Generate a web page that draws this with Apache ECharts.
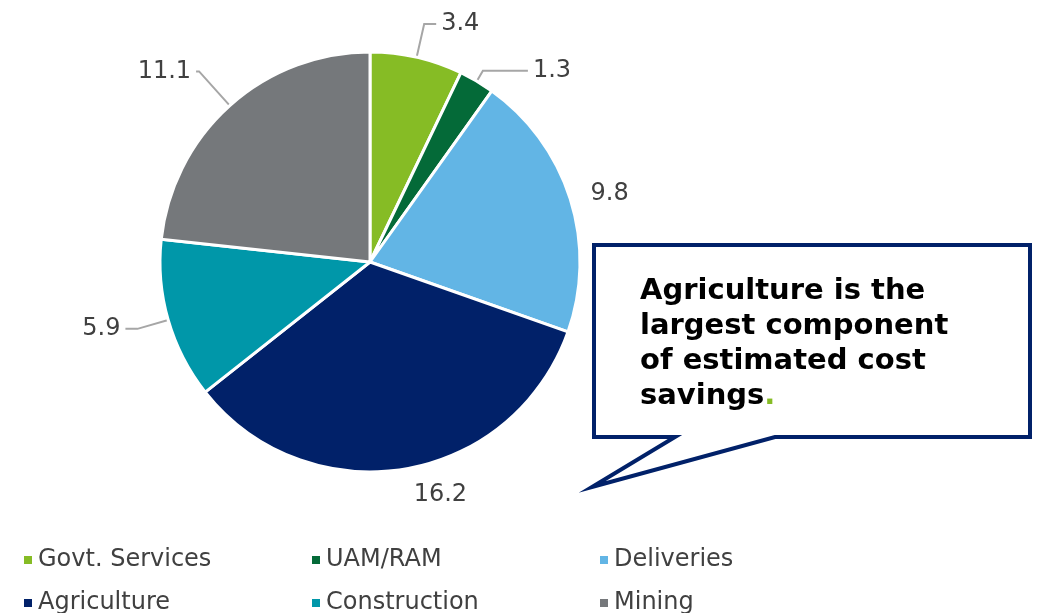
<!DOCTYPE html>
<html>
<head>
<meta charset="utf-8">
<script src="https://cdn.jsdelivr.net/npm/echarts@6/dist/echarts.min.js"></script>
<style>
  html, body { margin: 0; padding: 0; background: #fff; }
  #chart { width: 1038px; height: 613px; }
</style>
</head>
<body>
<div id="chart"></div>
<script>
var categories = ['Govt. Services', 'UAM/RAM', 'Deliveries', 'Agriculture', 'Construction', 'Mining'];
var values = [3.4, 1.3, 9.8, 16.2, 5.9, 11.1];
var colors = ['#86bc25', '#046a38', '#62b5e5', '#012169', '#0097a9', '#75787b'];
// leader lines only on the labels that have one in the original
var showLine = [true, true, false, false, true, true];
var lineLen = [[34, 12], [12, 45], [16, 0], [26, 0], [32, 12], [46, 3]];

var chart = echarts.init(document.getElementById('chart'));

var pieData = categories.map(function (name, i) {
    return {
        name: name,
        value: values[i],
        itemStyle: { color: colors[i] },
        labelLine: { show: showLine[i], length: lineLen[i][0], length2: lineLen[i][1] }
    };
});

var legendText = {
    fontFamily: 'DejaVu Sans',
    fontSize: 24,
    color: '#404040'
};

// 3 x 2 legend grid: one legend component per item
var legendCols = [17, 305, 593];
var legendRows = [543, 586];
var legends = categories.map(function (name, i) {
    return {
        data: [name],
        left: legendCols[i % 3],
        top: legendRows[Math.floor(i / 3)],
        icon: 'rect', itemWidth: 10, itemHeight: 10,
        textStyle: legendText
    };
});

var option = {
    backgroundColor: '#fff',
    animation: false,
    legend: legends,
    series: [{
        type: 'pie',
        center: [370, 262],
        radius: [0, 210],
        startAngle: 90,
        clockwise: true,
        itemStyle: { borderColor: '#fff', borderWidth: 3 },
        label: {
            show: true,
            position: 'outside',
            formatter: '{c}',
            fontFamily: 'DejaVu Sans',
            fontSize: 24,
            color: '#404040'
        },
        labelLine: {
            lineStyle: { color: '#a6a6a6', width: 2 }
        },
        emphasis: { disabled: true },
        data: pieData
    }],
    graphic: [
        {
            type: 'polygon',
            shape: {
                points: [[594, 245], [1030, 245], [1030, 437], [775, 437], [592, 487], [675, 437], [594, 437]]
            },
            style: { fill: '#fff', stroke: '#012169', lineWidth: 4 }
        },
        {
            type: 'text',
            left: 640, top: 274,
            style: {
                text: 'Agriculture is the\nlargest component\nof estimated cost\nsavings{g|.}',
                fontFamily: 'DejaVu Sans',
                fontWeight: 'bold',
                fontSize: 29,
                lineHeight: 35,
                fill: '#000',
                rich: {
                    g: { fill: '#86bc25', fontWeight: 'bold', fontSize: 29, fontFamily: 'DejaVu Sans', lineHeight: 35 }
                }
            }
        }
    ]
};

chart.setOption(option);
</script>
</body>
</html>
